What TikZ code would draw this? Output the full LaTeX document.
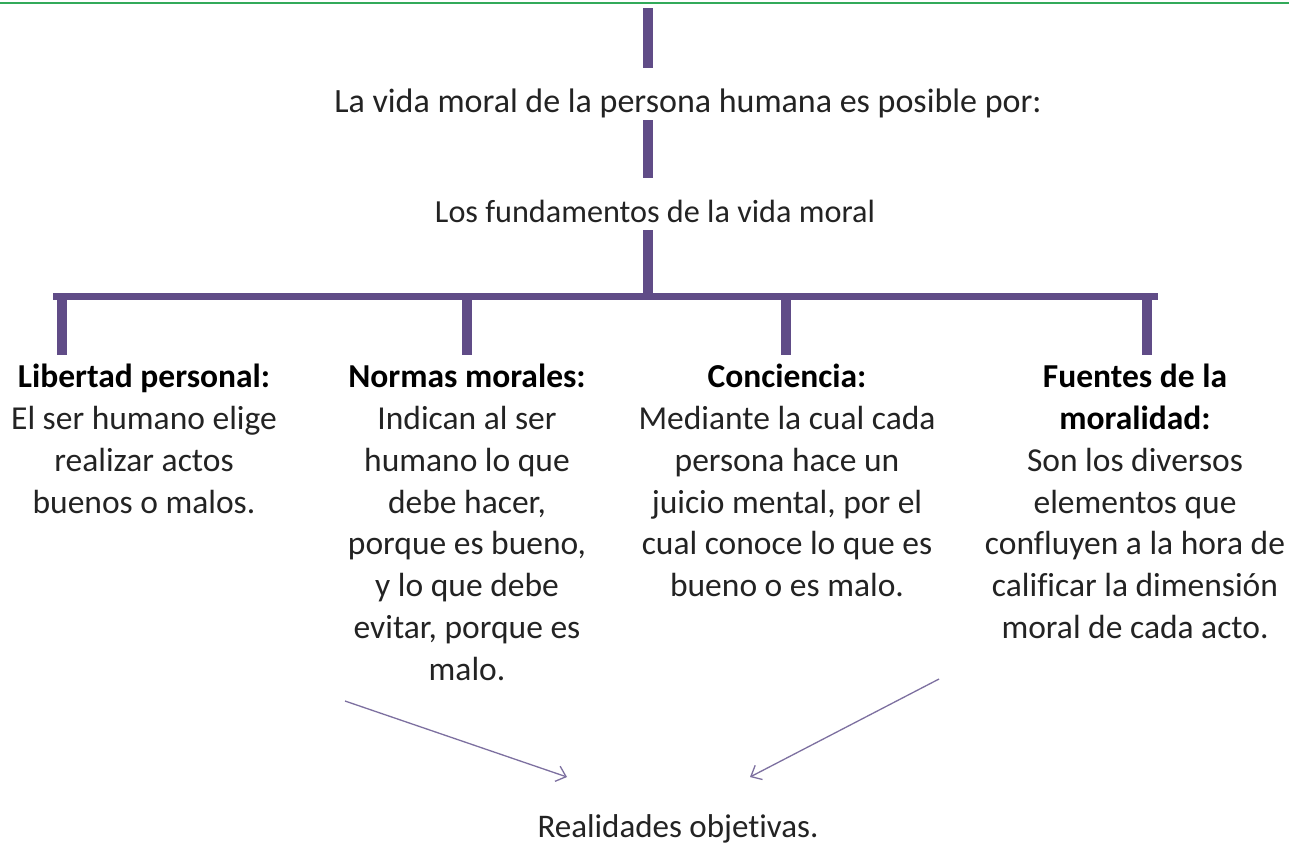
\documentclass[tikz,border=0pt]{standalone}
\usepackage{fontspec}
\setmainfont{Carlito}[Ligatures=NoCommon]
\usetikzlibrary{arrows.meta}
\definecolor{barpurple}{RGB}{96,76,135}
\definecolor{arrowpurple}{RGB}{125,112,160}
\definecolor{topgreen}{RGB}{50,170,90}
\definecolor{txt}{RGB}{35,35,35}
\begin{document}
\begin{tikzpicture}[x=1pt,y=-1pt,
  bar/.style={draw=barpurple,line width=10pt},
  hbar/.style={draw=barpurple,line width=7pt},
  lbl/.style={font=\fontsize{33.5}{41.8}\selectfont, text=txt, inner sep=0pt, align=center},
  toplbl/.style={font=\fontsize{34}{41.8}\selectfont, text=txt, inner sep=0pt, anchor=base},
  arr/.style={draw=arrowpurple,line width=1.3pt,-{Straight Barb[length=9pt,width=16pt]}}]
\useasboundingbox (0,0) rectangle (1289,846);
\fill[white] (0,0) rectangle (1289,846);
\coordinate (gl) at (0,3);
\coordinate (gr) at (1289,3);
\draw[topgreen,line width=2pt] (gl) -- (gr);

\node[toplbl] (t1) at (688,112) {La vida moral de la persona humana es posible por:};
\node[toplbl,font=\fontsize{32.2}{41.8}\selectfont] (t2) at (655,222) {Los fundamentos de la vida moral};

\coordinate (b1top) at (648,8);
\coordinate (b1bot) at (648,68);
\coordinate (b2top) at (648,120);
\coordinate (b2bot) at (648,178);
\coordinate (b3top) at (648,230);
\coordinate (hub) at (648,294);
\coordinate (hl) at (53,296);
\coordinate (hr) at (1158,296);
\draw[bar] (b1top) -- (b1bot);
\draw[bar] (b2top) -- (b2bot);
\draw[bar] (b3top) -- (hub);
\draw[hbar] (hl) -- (hr);

\node[lbl,anchor=north] (c1) at (144,364) {\textbf{\color{black}Libertad personal:}\\El ser humano elige\\realizar actos\\buenos o malos.};
\node[lbl,anchor=north] (c2) at (467,364) {\textbf{\color{black}Normas morales:}\\Indican al ser\\humano lo que\\debe hacer,\\porque es bueno,\\y lo que debe\\evitar, porque es\\malo.};
\node[lbl,anchor=north] (c3) at (787,364) {\textbf{\color{black}Conciencia:}\\Mediante la cual cada\\persona hace un\\juicio mental, por el\\cual conoce lo que es\\bueno o es malo.};
\node[lbl,anchor=north] (c4) at (1135,364) {\textbf{\color{black}Fuentes de la}\\\textbf{\color{black}moralidad:}\\Son los diversos\\elementos que\\confluyen a la hora de\\calificar la dimensión\\moral de cada acto.};

\foreach \n/\x in {1/62,2/467,3/786,4/1147}{
  \coordinate (dt\n) at (\x,296);
  \coordinate (db\n) at (\x,355);
  \draw[bar] (dt\n) -- (db\n);
}

\node[toplbl,font=\fontsize{33}{41.8}\selectfont] (r) at (678,837) {Realidades objetivas.};
\coordinate (a1s) at (345,701);
\coordinate (a1e) at (567,777);
\coordinate (a2s) at (939,679);
\coordinate (a2e) at (750,777);
\draw[arr] (a1s) -- (a1e);
\draw[arr] (a2s) -- (a2e);
\end{tikzpicture}
\end{document}
